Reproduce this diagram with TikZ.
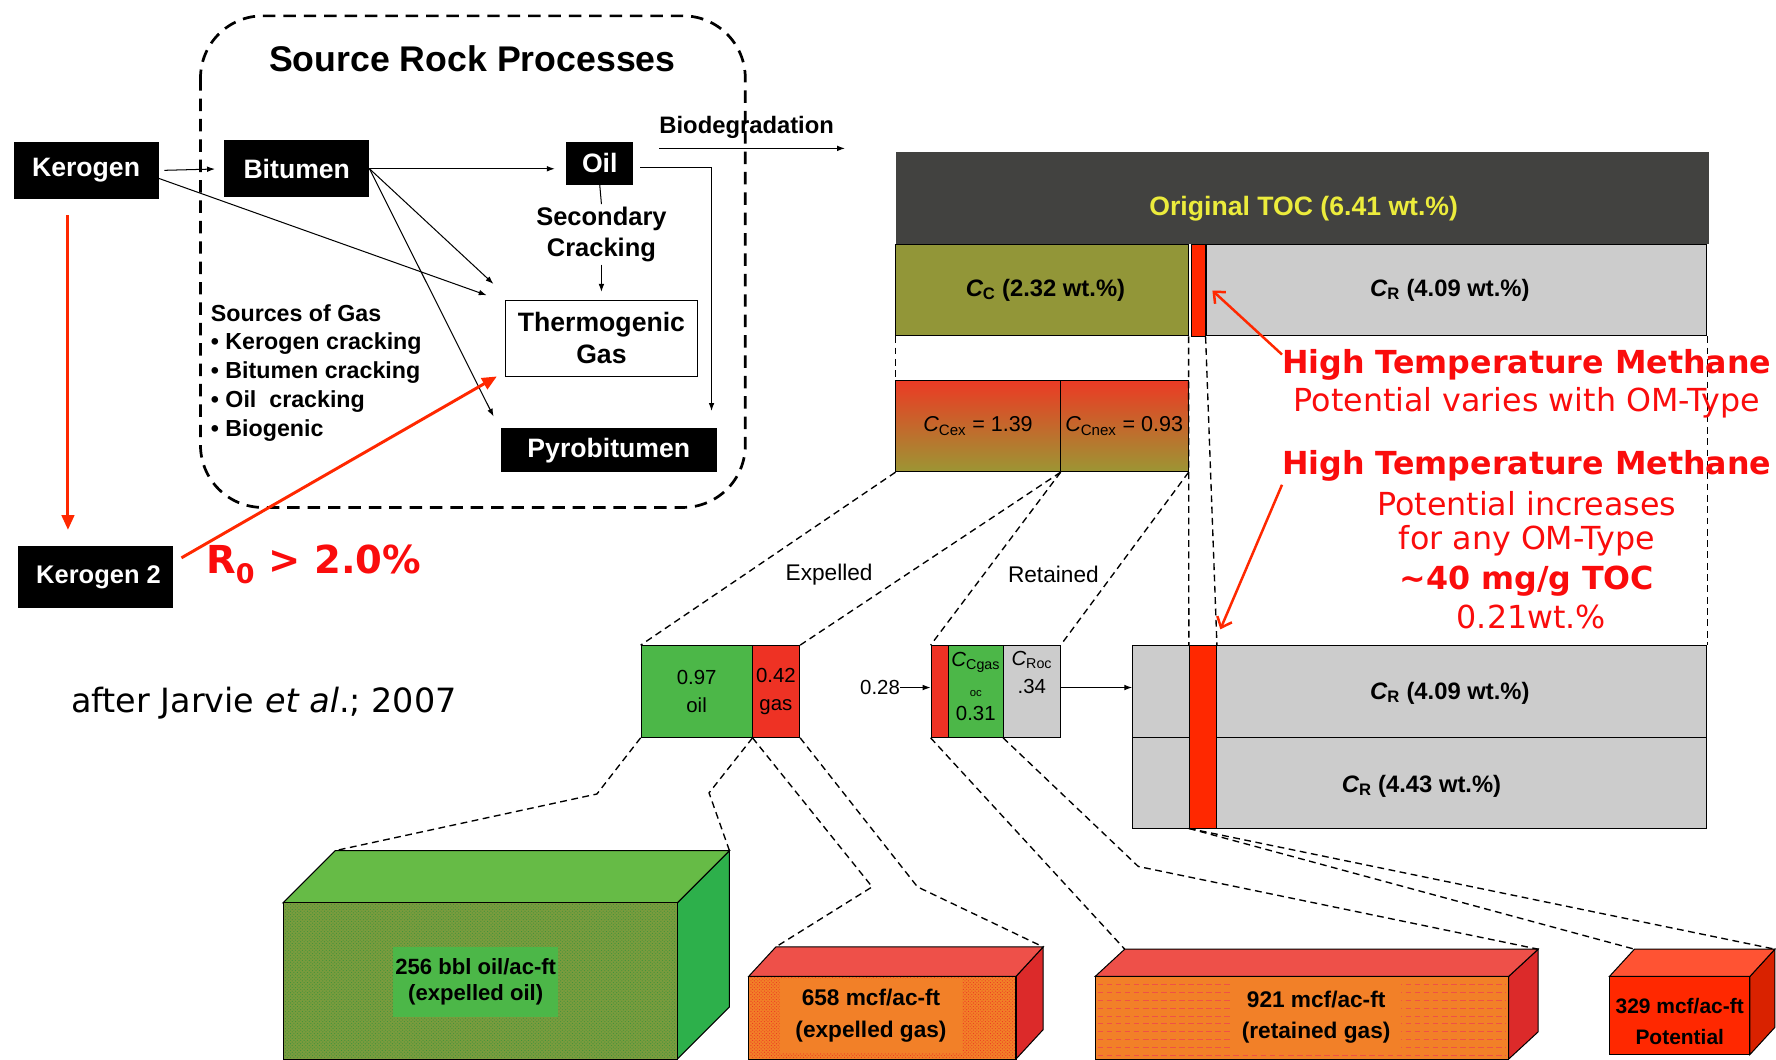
\documentclass[tikz,border=0pt]{standalone}
\usepackage{fontspec}
\setmainfont{Liberation Sans}
\newfontfamily\dejavu{DejaVu Sans}
\usetikzlibrary{arrows.meta,patterns}

\definecolor{tocgray}{RGB}{66,66,64}
\definecolor{tocyellow}{RGB}{236,236,60}
\definecolor{ccolive}{RGB}{146,150,56}
\definecolor{crgray}{RGB}{204,204,204}
\definecolor{barred}{RGB}{255,40,0}
\definecolor{htmred}{RGB}{250,12,12}
\definecolor{oilgreen}{RGB}{76,183,72}
\definecolor{gasred}{RGB}{238,50,36}
\definecolor{cexred}{RGB}{236,58,36}
\definecolor{cexorange}{RGB}{228,118,40}
\definecolor{cexolive}{RGB}{156,150,52}
\definecolor{topgreen}{RGB}{102,187,70}
\definecolor{sidegreen}{RGB}{45,176,75}
\definecolor{frontolive}{RGB}{122,156,62}
\definecolor{gasorange}{RGB}{242,128,40}
\definecolor{toppink}{RGB}{238,80,73}
\definecolor{sidered}{RGB}{220,42,42}

\begin{document}
\begin{tikzpicture}[x=1pt, y=-1pt, >={Latex[length=7pt,width=5pt]},
	blk/.style={fill=black, text=white, inner sep=0pt, font=\fontsize{23.5}{26}\selectfont\bfseries},
	lbl/.style={inner sep=0pt, align=center, font=\fontsize{21}{28}\selectfont\bfseries},
	arr/.style={->, line width=0.9pt},
	redarr/.style={-{Triangle[length=13pt,width=11pt]}, draw=barred, line width=2.6pt},
	callout/.style={-{Straight Barb[length=8pt,width=14pt]}, draw=barred, line width=2.2pt},
	cell/.style={draw=black, line width=0.8pt, inner sep=0pt, minimum height=81pt},
	note/.style={inner sep=0pt, text=htmred, font=\dejavu\fontsize{28}{33}\selectfont},
	bignote/.style={note, font=\dejavu\bfseries\fontsize{28}{33}\selectfont},
	numtxt/.style={inner sep=0pt, align=center, font=\fontsize{18}{25}\selectfont},
	ctext/.style={inner sep=0pt, font=\fontsize{21}{25}\selectfont\bfseries},
	boxtxt/.style={inner sep=0pt, align=center, font=\fontsize{20}{28}\selectfont\bfseries},
	link/.style={dash pattern=on 6pt off 4pt, line width=1.2pt}]

\useasboundingbox (0,0) rectangle (1568,935);
\clip (0,0) rectangle (1568,935);

% source rock processes
\draw[line width=2.4pt, dash pattern=on 11pt off 7pt, rounded corners=55pt] (177,14) rectangle (658,448);
\node[lbl, font=\fontsize{31.5}{36}\selectfont\bfseries] (title) at (417,52) {Source Rock Processes};
\node[blk, minimum width=128pt, minimum height=51pt] (ker) at (76,150.5) {Kerogen};
\node[blk, minimum width=128pt, minimum height=50pt] (bit) at (262,149) {Bitumen};
\node[blk, minimum width=59pt, minimum height=38pt] (oil) at (529.5,144) {Oil};
\node[blk, minimum width=191pt, minimum height=39pt] (pyro) at (537.5,397.5) {Pyrobitumen};
\node[blk, minimum width=137pt, minimum height=55pt, font=\fontsize{22.5}{26}\selectfont\bfseries] (ker2) at (84.5,509.5) {\hspace*{5pt}Kerogen 2};
\node[draw, fill=white, line width=0.7pt, minimum width=170pt, minimum height=67pt, inner sep=0pt, align=center, font=\fontsize{23.5}{28}\selectfont\bfseries] (thermo) at (531,298.5) {Thermogenic\\Gas};
\node[lbl, inner sep=2pt, font=\fontsize{22.5}{28}\selectfont\bfseries] (seccrack) at (531,207) {Secondary\\Cracking};
\node[lbl, align=left, anchor=west, font=\fontsize{20.5}{25.5}\selectfont\bfseries] (srcs) at (186,329) {Sources of Gas\\[-0.5pt]
	\textbullet\ Kerogen cracking\\\textbullet\ Bitumen cracking\\\textbullet\ Oil\ \ cracking\\\textbullet\ Biogenic};
\node[lbl, anchor=base west] (biod) at (582,118) {Biodegradation};
\coordinate (bioend) at (746,131);

\draw[arr, shorten <=5pt, shorten >=8pt] (ker.east) -- (bit.west);
\draw[arr] ([yshift=-7pt]ker.east) -- ([xshift=-16pt,yshift=4pt]thermo.north west);
\draw[arr, shorten >=10pt] (bit.east) -- (bit.east -| oil.west);
\draw[arr] (bit.east) -- ([xshift=-10pt,yshift=14pt]thermo.north west);
\draw[arr] (bit.east) -- ([xshift=-6pt,yshift=10pt]pyro.north west);
\draw[line width=0.9pt] (oil.south) -- (seccrack.north);
\draw[arr, shorten >=7pt] (seccrack.south) -- (thermo.north);
\draw[arr] ([xshift=6pt,yshift=-4pt]oil.east) -| ([xshift=-5pt,yshift=15pt]pyro.north east);
\draw[arr] (biod.west |- bioend) -- (bioend);

\draw[redarr] ([xshift=-16pt,yshift=-14pt]ker.south) -- ([xshift=-24.5pt,yshift=14pt]ker2.north);
\draw[redarr] ([xshift=7pt,yshift=17pt]ker2.east) -- ([xshift=-7pt]thermo.south west);
\node[inner sep=0pt, text=htmred, font=\dejavu\bfseries\fontsize{34}{40}\selectfont] (ro) at (277,498) {R\textsubscript{0} > 2.0\%};
\node[note, text=black, font=\dejavu\fontsize{29.5}{33}\selectfont] (cite) at (233,621) {after Jarvie \textit{et al}.; 2007};

% TOC bars
\node[fill=tocgray, minimum width=718pt, minimum height=81pt, inner sep=0pt] (toc) at (1150,174.5) {};
\node[ctext, text=tocyellow, font=\fontsize{23.5}{26}\selectfont\bfseries] (toctxt) at (1151,184) {Original TOC (6.41 wt.\%)};
\node[cell, fill=ccolive, minimum width=258pt, font=\fontsize{21}{25}\selectfont\bfseries] (cc) at (920,256) {\hspace*{6pt}{\itshape C}\textsubscript{C} (2.32 wt.\%)};
\node[cell, fill=barred, minimum width=12pt] (htm) at (1058,256.5) {};
\node[cell, fill=crgray, minimum width=442pt, font=\fontsize{21}{25}\selectfont\bfseries] (cr) at (1286,256) {{\itshape C}\textsubscript{R} (4.09 wt.\%)\hspace*{12pt}};
\node[cell, top color=cexred, middle color=cexorange, bottom color=cexolive, minimum width=145pt, font=\fontsize{19}{22}\selectfont] (cex) at (863.5,376) {{\itshape C}\textsubscript{Cex} = 1.39};
\node[cell, top color=cexred, middle color=cexorange, bottom color=cexolive, minimum width=113pt, font=\fontsize{19}{22}\selectfont] (cnex) at (992.5,376) {{\itshape C}\textsubscript{Cnex} = 0.93};

% expelled / retained
\node[cell, fill=oilgreen, minimum width=98pt, align=center, font=\fontsize{18}{25}\selectfont] (oilm) at (615,610.5) {0.97\\oil};
\node[cell, fill=gasred, minimum width=42pt, align=center, font=\fontsize{18}{25}\selectfont] (gasm) at (685,610.5) {0.42\\gas};
\node[numtxt] (p28) at (777,607) {0.28};
\node[cell, fill=gasred, minimum width=15pt] (rbar) at (829.5,610.5) {};
\node[cell, fill=oilgreen, minimum width=49pt] (cgas) at (861.5,610.5) {};
\node[cell, fill=crgray, minimum width=50pt] (croc) at (911,610.5) {};
\node[numtxt] (cgasa) at (861.5,585) {{\itshape C}\textsubscript{Cgas}};
\node[numtxt, font=\fontsize{10}{12}\selectfont] (cgasb) at (861.5,612) {oc};
\node[numtxt] (cgasc) at (861.5,630) {0.31};
\node[numtxt] (roca) at (911,583) {{\itshape C}\textsubscript{Roc}};
\node[numtxt] (rocb) at (911,606) {.34};
\node[numtxt, font=\fontsize{20}{24}\selectfont] (expl) at (732,507) {Expelled};
\node[numtxt, font=\fontsize{20}{24}\selectfont] (retl) at (930,507) {Retained};

\node[cell, fill=crgray, minimum width=507pt] (bigtop) at (1253.5,610.5) {};
\node[cell, fill=crgray, minimum width=507pt, minimum height=80pt] (bigbot) at (1253.5,691) {};
\node[cell, fill=barred, minimum width=24pt, minimum height=161pt] (bar2) at (1062,650.5) {};
\node[ctext] (crtop) at (1280,612) {{\itshape C}\textsubscript{R} (4.09 wt.\%)};
\node[ctext] (crbot) at (1255,694) {{\itshape C}\textsubscript{R} (4.43 wt.\%)};

\draw[arr] (p28.east) -- (p28.east -| rbar.west);
\draw[arr] ([yshift=3.5pt]croc.east) -- ([yshift=3.5pt]croc.east -| bigtop.west);

% dashed links
\draw[link] (cc.south west) -- (cex.north west);
\draw[link] (cc.south east) -- (bar2.north west);
\draw[link] (htm.south east) -- (bar2.north east);
\draw[link] (cr.south east) -- (bigtop.north east);
\draw[link] (cex.south west) -- (oilm.north west);
\draw[link] (cex.south east) -- (gasm.north east);
\draw[link] (cex.south east) -- (rbar.north west);
\draw[link] (cnex.south east) -- (croc.north east);

% methane notes
\node[bignote] (htma) at (1348,322) {High Temperature Methane};
\node[note] (htmb) at (1348,356) {Potential varies with OM-Type};
\node[bignote] (htmc) at (1348,411) {High Temperature Methane};
\node[note] (htmd) at (1348,445) {Potential increases};
\node[note] (htme) at (1348,477) {for any OM-Type};
\node[bignote] (htmf) at (1348,513) {\textasciitilde40 mg/g TOC};
\node[note] (htmg) at (1352,545) {0.21wt.\%};
\draw[callout] ([yshift=9pt]htma.west) -- ([xshift=6pt]htm.east);
\draw[callout] ([yshift=-17pt]htmc.west) -- ([xshift=3pt,yshift=14pt]bar2.north east);

% volume blocks
\foreach \n/\xa/\xb/\ya/\yb/\dx/\dy/\cf/\ct/\cs in {
	oilbox/250/598/797/935/46/46/frontolive/topgreen/sidegreen,
	gasbox/661/897/862/935/24/26/gasorange/toppink/sidered,
	retbox/967/1332/862/935/26/24/gasorange/toppink/sidered,
	potbox/1421/1545/862/931/22/24/barred/barred!80!white/barred!85!black}
{
	\coordinate (\n-bl) at (\xa+\dx,\ya-\dy);
	\coordinate (\n-br) at (\xb+\dx,\ya-\dy);
	\filldraw[fill=\cs, line width=0.9pt] (\xb,\ya) -- (\n-br) -- (\xb+\dx,\yb-\dy) -- (\xb,\yb) -- cycle;
	\filldraw[fill=\ct, line width=0.9pt] (\xa,\ya) -- (\n-bl) -- (\n-br) -- (\xb,\ya) -- cycle;
	\filldraw[fill=\cf, line width=0.9pt] (\xa,\ya) rectangle (\xb,\yb);
}
\fill[pattern=crosshatch dots, pattern color=oilgreen!80!black] (251,798) rectangle (597,934);
\fill[pattern=crosshatch dots, pattern color=gasred] (662,863) rectangle (896,934);
\foreach \yy in {869,876,...,932}
	\draw[gasred!85, dash pattern=on 5pt off 3pt, line width=0.8pt] (969,\yy) -- (1330,\yy);

\node[boxtxt, fill=oilgreen, minimum width=146pt, minimum height=62pt, font=\fontsize{19.5}{23}\selectfont\bfseries] (oiltxt) at (420,867) {256 bbl oil/ac-ft\\(expelled oil)};
\node[boxtxt, fill=gasorange, minimum width=160pt, minimum height=66pt] (gastxt) at (769,897) {658 mcf/ac-ft\\(expelled gas)};
\node[boxtxt, fill=gasorange, minimum width=150pt, minimum height=64pt] (rettxt) at (1162,898) {921 mcf/ac-ft\\(retained gas)};
\node[boxtxt, font=\fontsize{18.5}{27}\selectfont\bfseries] (pottxt) at (1483,902) {329 mcf/ac-ft\\Potential};

\coordinate (k1) at (527,701);
\coordinate (k2) at (626,700);
\coordinate (k3) at (770,783);
\coordinate (k4) at (810,783);
\coordinate (k5) at (1005,765);
\draw[link] (oilm.south west) -- (k1) -- (oilbox-bl);
\draw[link] (oilm.south east) -- (k2) -- (oilbox-br);
\draw[link] (oilm.south east) -- (k3) -- (gasbox-bl);
\draw[link] (gasm.south east) -- (k4) -- (gasbox-br);
\draw[link] (rbar.south west) -- (retbox-bl);
\draw[link] (croc.south west) -- (k5) -- (retbox-br);
\draw[link] (bar2.south west) -- (potbox-bl);
\draw[link] (bar2.south west) -- (potbox-br);
\end{tikzpicture}
\end{document}
